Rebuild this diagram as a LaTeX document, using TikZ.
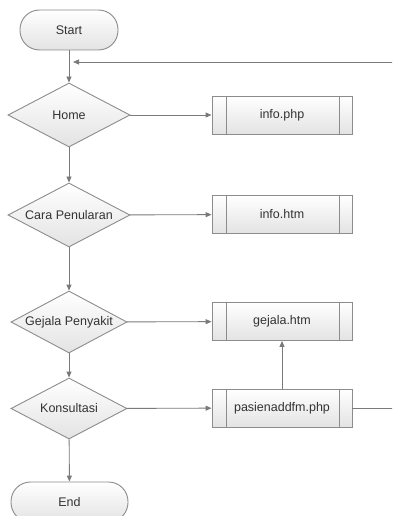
\documentclass[tikz,border=0pt]{standalone}
\usepackage{fontspec}
\setmainfont{Liberation Sans}
\usetikzlibrary{shapes.geometric,arrows.meta}
\definecolor{lc}{HTML}{7A7A7A}
\definecolor{bc}{HTML}{8C8C8C}
\definecolor{tc}{HTML}{333333}
\begin{document}
\begin{tikzpicture}[x=1pt,y=-1pt,
  base/.style={draw=bc, line width=0.9pt, top color=white, bottom color=black!11, text=tc,
    font=\fontsize{12.5}{14}\selectfont, inner sep=0pt},
  term/.style={base, rectangle, rounded corners=19.5pt, minimum height=40pt},
  dec/.style={base, diamond},
  proc/.style={base, rectangle, minimum width=140pt, minimum height=38pt,
    path picture={\draw[bc, line width=0.9pt]
      ([xshift=14pt]path picture bounding box.north west) -- ([xshift=14pt]path picture bounding box.south west)
      ([xshift=-13pt]path picture bounding box.north east) -- ([xshift=-13pt]path picture bounding box.south east);}},
  arr/.style={draw=lc, line width=0.9pt, -{Triangle[length=6pt,width=5pt]}},
  ln/.style={draw=lc, line width=0.9pt}]
\clip (0,0) rectangle (392,516);
\fill[white] (0,0) rectangle (392,516);

\node[term, minimum width=98pt] (start) at (69,30) {Start};
\node[dec, minimum width=122pt, minimum height=64pt] (home) at (69,115) {\makebox[0pt]{Home}};
\node[dec, minimum width=122pt, minimum height=64pt] (cara) at (69,215) {\makebox[0pt]{Cara Penularan}};
\node[dec, minimum width=116pt, minimum height=62pt] (gejala) at (69,322) {\makebox[0pt]{Gejala Penyakit}};
\node[dec, minimum width=116pt, minimum height=61pt] (kons) at (69,408.5) {\makebox[0pt]{Konsultasi}};
\node[term, minimum width=117pt] (end) at (69.5,502) {End};

\node[proc] (infophp) at (282,115) {info.php};
\node[proc] (infohtm) at (282,214.5) {info.htm};
\node[proc] (gejalahtm) at (282,321.5) {gejala.htm};
\node[proc] (pasien) at (282,408) {pasienaddfm.php};

\coordinate (back) at (73,62);

\draw[arr] (start) -- (home);
\draw[arr] (home) -- (infophp);
\draw[arr] (home) -- (cara);
\draw[arr] (cara) -- (infohtm);
\draw[arr] (cara) -- (gejala);
\draw[arr] (gejala) -- (gejalahtm);
\draw[arr] (gejala) -- (kons);
\draw[arr] (kons) -- (pasien);
\draw[arr] (kons) -- (end);
\draw[arr] (pasien) -- (gejalahtm);
\draw[arr] (pasien.east) -- ++(50,0) |- (back);
\end{tikzpicture}
\end{document}
